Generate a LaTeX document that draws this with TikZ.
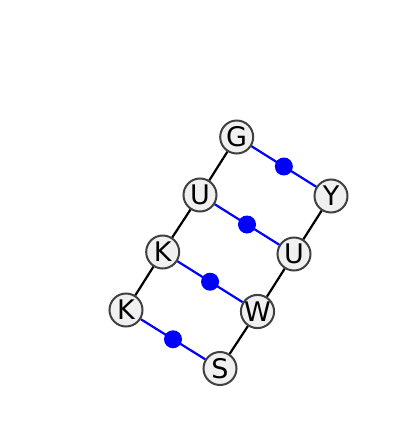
\documentclass[tikz,border=0pt]{standalone}
\usepackage{fontspec}
\setmainfont{DejaVu Sans}
\definecolor{nodefill}{HTML}{F0F0F0}
\definecolor{nodeline}{HTML}{404040}
\begin{document}
\begin{tikzpicture}[x=1pt,y=-1pt,
  base/.style={circle,draw=nodeline,fill=nodefill,line width=2pt,minimum size=33pt,inner sep=0pt,font=\fontsize{27}{27}\selectfont},
  bb/.style={black,line width=2.2pt},
  pair/.style={blue,line width=2.2pt},
  dot/.style={circle,fill=blue,inner sep=0pt,minimum size=18pt}]
\useasboundingbox (0,0) rectangle (400,447);
\node[base] (g) at (236.7,137) {G};
\node[base] (u1) at (200,195) {U};
\node[base] (k1) at (162.7,252) {K};
\node[base] (k2) at (126,310) {K};
\node[base] (s) at (220,368.5) {S};
\node[base] (w) at (257.5,311.5) {W};
\node[base] (u2) at (294,254) {U};
\node[base] (y) at (331,196) {Y};
\draw[bb] (g) -- (u1);
\draw[bb] (u1) -- (k1);
\draw[bb] (k1) -- (k2);
\draw[bb] (s) -- (w);
\draw[bb] (w) -- (u2);
\draw[bb] (u2) -- (y);
\draw[pair] (g) -- node[dot] (d1) {} (y);
\draw[pair] (u1) -- node[dot] (d2) {} (u2);
\draw[pair] (k1) -- node[dot] (d3) {} (w);
\draw[pair] (k2) -- node[dot] (d4) {} (s);
\end{tikzpicture}
\end{document}
